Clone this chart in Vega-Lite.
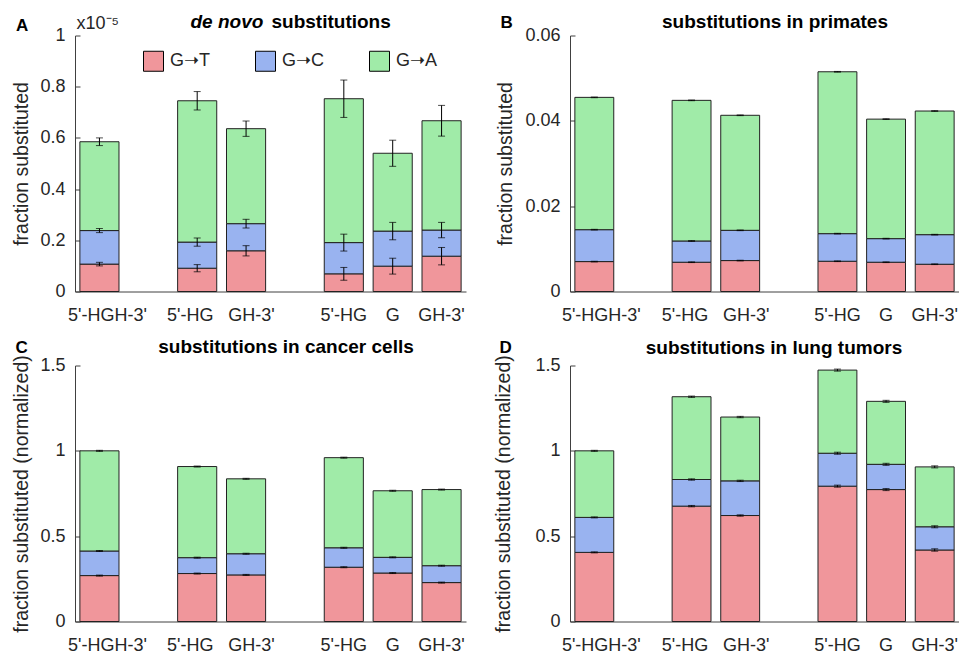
{
  "$schema": "https://vega.github.io/schema/vega-lite/v6.json",
  "padding": {"left": 10, "top": 12.5, "right": 0, "bottom": 0},
  "config": {
    "font": "Liberation Sans",
    "view": {"stroke": null},
    "axis": {"grid": false, "labelFont": "Liberation Sans", "titleFont": "Liberation Sans"},
    "title": {"font": "Liberation Sans", "color": "black"},
    "legend": {"labelFont": "Liberation Sans"}
  },
  "datasets": {
    "A": [
      {"site": "5'-HGH-3'|1", "type": "G➝T", "value": 0.107, "err": 0.007},
      {"site": "5'-HGH-3'|1", "type": "G➝C", "value": 0.131, "err": 0.008},
      {"site": "5'-HGH-3'|1", "type": "G➝A", "value": 0.347, "err": 0.015},
      {"site": "5'-HG|1", "type": "G➝T", "value": 0.091, "err": 0.014},
      {"site": "5'-HG|1", "type": "G➝C", "value": 0.102, "err": 0.016},
      {"site": "5'-HG|1", "type": "G➝A", "value": 0.552, "err": 0.036},
      {"site": "GH-3'|1", "type": "G➝T", "value": 0.159, "err": 0.020},
      {"site": "GH-3'|1", "type": "G➝C", "value": 0.106, "err": 0.017},
      {"site": "GH-3'|1", "type": "G➝A", "value": 0.371, "err": 0.030},
      {"site": "5'-HG|2", "type": "G➝T", "value": 0.069, "err": 0.025},
      {"site": "5'-HG|2", "type": "G➝C", "value": 0.122, "err": 0.033},
      {"site": "5'-HG|2", "type": "G➝A", "value": 0.562, "err": 0.073},
      {"site": "G|2", "type": "G➝T", "value": 0.099, "err": 0.031},
      {"site": "G|2", "type": "G➝C", "value": 0.137, "err": 0.034},
      {"site": "G|2", "type": "G➝A", "value": 0.304, "err": 0.051},
      {"site": "GH-3'|2", "type": "G➝T", "value": 0.138, "err": 0.034},
      {"site": "GH-3'|2", "type": "G➝C", "value": 0.102, "err": 0.030},
      {"site": "GH-3'|2", "type": "G➝A", "value": 0.427, "err": 0.060}
    ],
    "B": [
      {"site": "5'-HGH-3'|1", "type": "G➝T", "value": 0.00701, "err": 0.00008},
      {"site": "5'-HGH-3'|1", "type": "G➝C", "value": 0.00748, "err": 0.00008},
      {"site": "5'-HGH-3'|1", "type": "G➝A", "value": 0.03101, "err": 0.00008},
      {"site": "5'-HG|1", "type": "G➝T", "value": 0.00686, "err": 0.00008},
      {"site": "5'-HG|1", "type": "G➝C", "value": 0.00498, "err": 0.00008},
      {"site": "5'-HG|1", "type": "G➝A", "value": 0.03296, "err": 0.00008},
      {"site": "GH-3'|1", "type": "G➝T", "value": 0.00725, "err": 0.00008},
      {"site": "GH-3'|1", "type": "G➝C", "value": 0.00709, "err": 0.00008},
      {"site": "GH-3'|1", "type": "G➝A", "value": 0.02696, "err": 0.00008},
      {"site": "5'-HG|2", "type": "G➝T", "value": 0.00709, "err": 0.00008},
      {"site": "5'-HG|2", "type": "G➝C", "value": 0.00647, "err": 0.00008},
      {"site": "5'-HG|2", "type": "G➝A", "value": 0.03794, "err": 0.00008},
      {"site": "G|2", "type": "G➝T", "value": 0.00686, "err": 0.00008},
      {"site": "G|2", "type": "G➝C", "value": 0.00553, "err": 0.00008},
      {"site": "G|2", "type": "G➝A", "value": 0.02801, "err": 0.00008},
      {"site": "GH-3'|2", "type": "G➝T", "value": 0.00639, "err": 0.00008},
      {"site": "GH-3'|2", "type": "G➝C", "value": 0.00693, "err": 0.00008},
      {"site": "GH-3'|2", "type": "G➝A", "value": 0.02898, "err": 0.00008}
    ],
    "C": [
      {"site": "5'-HGH-3'|1", "type": "G➝T", "value": 0.269, "err": 0.003},
      {"site": "5'-HGH-3'|1", "type": "G➝C", "value": 0.144, "err": 0.003},
      {"site": "5'-HGH-3'|1", "type": "G➝A", "value": 0.587, "err": 0.003},
      {"site": "5'-HG|1", "type": "G➝T", "value": 0.281, "err": 0.003},
      {"site": "5'-HG|1", "type": "G➝C", "value": 0.093, "err": 0.003},
      {"site": "5'-HG|1", "type": "G➝A", "value": 0.534, "err": 0.003},
      {"site": "GH-3'|1", "type": "G➝T", "value": 0.273, "err": 0.003},
      {"site": "GH-3'|1", "type": "G➝C", "value": 0.124, "err": 0.003},
      {"site": "GH-3'|1", "type": "G➝A", "value": 0.439, "err": 0.003},
      {"site": "5'-HG|2", "type": "G➝T", "value": 0.318, "err": 0.003},
      {"site": "5'-HG|2", "type": "G➝C", "value": 0.114, "err": 0.003},
      {"site": "5'-HG|2", "type": "G➝A", "value": 0.528, "err": 0.003},
      {"site": "G|2", "type": "G➝T", "value": 0.284, "err": 0.003},
      {"site": "G|2", "type": "G➝C", "value": 0.092, "err": 0.003},
      {"site": "G|2", "type": "G➝A", "value": 0.390, "err": 0.003},
      {"site": "GH-3'|2", "type": "G➝T", "value": 0.228, "err": 0.003},
      {"site": "GH-3'|2", "type": "G➝C", "value": 0.099, "err": 0.003},
      {"site": "GH-3'|2", "type": "G➝A", "value": 0.446, "err": 0.003}
    ],
    "D": [
      {"site": "5'-HGH-3'|1", "type": "G➝T", "value": 0.405, "err": 0.003},
      {"site": "5'-HGH-3'|1", "type": "G➝C", "value": 0.205, "err": 0.003},
      {"site": "5'-HGH-3'|1", "type": "G➝A", "value": 0.390, "err": 0.003},
      {"site": "5'-HG|1", "type": "G➝T", "value": 0.676, "err": 0.004},
      {"site": "5'-HG|1", "type": "G➝C", "value": 0.156, "err": 0.004},
      {"site": "5'-HG|1", "type": "G➝A", "value": 0.485, "err": 0.004},
      {"site": "GH-3'|1", "type": "G➝T", "value": 0.621, "err": 0.004},
      {"site": "GH-3'|1", "type": "G➝C", "value": 0.203, "err": 0.004},
      {"site": "GH-3'|1", "type": "G➝A", "value": 0.374, "err": 0.004},
      {"site": "5'-HG|2", "type": "G➝T", "value": 0.793, "err": 0.006},
      {"site": "5'-HG|2", "type": "G➝C", "value": 0.193, "err": 0.006},
      {"site": "5'-HG|2", "type": "G➝A", "value": 0.487, "err": 0.006},
      {"site": "G|2", "type": "G➝T", "value": 0.773, "err": 0.006},
      {"site": "G|2", "type": "G➝C", "value": 0.148, "err": 0.006},
      {"site": "G|2", "type": "G➝A", "value": 0.369, "err": 0.006},
      {"site": "GH-3'|2", "type": "G➝T", "value": 0.419, "err": 0.007},
      {"site": "GH-3'|2", "type": "G➝C", "value": 0.136, "err": 0.006},
      {"site": "GH-3'|2", "type": "G➝A", "value": 0.351, "err": 0.006}
    ]
  },
  "bounds": "flush",
  "columns": 2,
  "spacing": {"row": 74, "column": 104},
  "resolve": {"legend": {"color": "independent"}},
  "concat": [
    {
      "width": 391, "height": 256,
      "data": {"name": "A"},
      "title": {"text": "A", "anchor": "start", "frame": "group", "dx": -59, "dy": 35, "offset": 0, "baseline": "alphabetic", "fontSize": 17, "fontWeight": "bold", "color": "black"},
      "resolve": {"axis": {"x": "independent", "y": "independent"}},
      "layer": [
        {
          "mark": {"type": "bar", "stroke": "#222222", "strokeWidth": 1},
          "encoding": {
            "x": {"field": "site", "type": "nominal",
              "scale": {"domain": ["5'-HGH-3'|1", "|a", "5'-HG|1", "GH-3'|1", "|b", "5'-HG|2", "G|2", "GH-3'|2"], "paddingInner": 0.2, "paddingOuter": 0.1},
              "axis": {"orient": "bottom", "labelExpr": "split(datum.label, '|')[0]", "labelAngle": 0, "ticks": false, "labelFontSize": 18, "labelColor": "#262626", "labelPadding": 15, "domainColor": "#404040",
                "labelOffset": {"condition": [{"test": "datum.value == \"5'-HGH-3'|1\"", "value": 8}, {"test": "datum.value == \"5'-HG|1\"", "value": -7}, {"test": "datum.value == \"GH-3'|1\"", "value": 5.5}], "value": 0},
                "title": "x10⁻⁵", "titleX": 1, "titleY": -263, "titleAlign": "left", "titleBaseline": "alphabetic", "titleAngle": 0, "titleFontSize": 18, "titleFontWeight": "normal", "titleColor": "#262626"}},
            "y": {"field": "value", "type": "quantitative", "stack": "zero",
              "scale": {"domain": [0, 1], "nice": false},
              "axis": {"values": [0, 0.2, 0.4, 0.6, 0.8, 1], "format": "~g", "title": "fraction substituted", "titleX": -48, "titleBaseline": "alphabetic", "titleFontSize": 19.5, "titleFontWeight": "normal", "titleColor": "#262626", "labelFontSize": 18, "labelColor": "#262626", "tickSize": -5, "tickColor": "#404040", "domainColor": "#404040", "labelPadding": 15}},
            "color": {"field": "type", "type": "nominal",
              "scale": {"domain": ["G➝T", "G➝C", "G➝A"], "range": ["#F0969B", "#99B3F0", "#A0EBA8"]},
              "legend": {"orient": "none", "legendX": 68, "legendY": 15, "direction": "horizontal", "title": null, "symbolType": "square", "symbolSize": 400, "symbolStrokeColor": "black", "symbolStrokeWidth": 1, "symbolOpacity": 1, "labelFontSize": 18, "labelColor": "#262626", "labelOffset": 6, "columnPadding": 43, "padding": 0}},
            "order": {"field": "type", "sort": "descending"}
          }
        },
        {
          "transform": [{"stack": "value", "groupby": ["site"], "sort": [{"field": "type", "order": "descending"}], "as": ["s0", "s1"]}],
          "mark": {"type": "errorbar", "ticks": {"size": 7}, "color": "black"},
          "encoding": {
            "x": {"field": "site", "type": "nominal",
              "scale": {"domain": ["5'-HGH-3'|1", "|a", "5'-HG|1", "GH-3'|1", "|b", "5'-HG|2", "G|2", "GH-3'|2"]},
              "axis": {"orient": "top", "labels": false, "ticks": false, "domain": false, "title": "substitutions", "titleX": 196, "titleY": -8, "titleAlign": "left", "titleBaseline": "alphabetic", "titleAngle": 0, "titleFontSize": 19, "titleFontWeight": "bold", "titleColor": "black"}},
            "y": {"field": "s1", "type": "quantitative",
              "scale": {"domain": [0, 1], "nice": false},
              "axis": {"orient": "right", "labels": false, "ticks": false, "domain": false, "title": "de novo", "titleX": -276, "titleY": -8, "titleAlign": "left", "titleBaseline": "alphabetic", "titleAngle": 0, "titleFontSize": 19, "titleFontWeight": "bold", "titleFontStyle": "italic", "titleColor": "black"}},
            "yError": {"field": "err"}
          }
        }
      ]
    },
    {
      "width": 389, "height": 256,
      "data": {"name": "B"},
      "resolve": {"axis": {"x": "independent", "y": "independent"}},
      "layer": [
        {
          "mark": {"type": "bar", "stroke": "#222222", "strokeWidth": 1},
          "encoding": {
            "x": {"field": "site", "type": "nominal",
              "scale": {"domain": ["5'-HGH-3'|1", "|a", "5'-HG|1", "GH-3'|1", "|b", "5'-HG|2", "G|2", "GH-3'|2"], "paddingInner": 0.2, "paddingOuter": 0.1},
              "axis": {"orient": "bottom", "labelExpr": "split(datum.label, '|')[0]", "labelAngle": 0, "ticks": false, "labelFontSize": 18, "labelColor": "#262626", "labelPadding": 15, "domainColor": "#404040",
                "labelOffset": {"condition": [{"test": "datum.value == \"5'-HGH-3'|1\"", "value": 7}, {"test": "datum.value == \"5'-HG|1\"", "value": -6.5}, {"test": "datum.value == \"GH-3'|1\"", "value": 6}], "value": 0},
                "title": "B", "titleX": -70, "titleY": -264, "titleAlign": "left", "titleBaseline": "alphabetic", "titleAngle": 0, "titleFontSize": 17, "titleFontWeight": "bold", "titleColor": "black"}},
            "y": {"field": "value", "type": "quantitative", "stack": "zero",
              "scale": {"domain": [0, 0.06], "nice": false},
              "axis": {"values": [0, 0.02, 0.04, 0.06], "format": "~g", "title": "fraction substituted", "titleX": -59, "titleBaseline": "alphabetic", "titleFontSize": 19.5, "titleFontWeight": "normal", "titleColor": "#262626", "labelFontSize": 18, "labelColor": "#262626", "tickSize": -5, "tickColor": "#404040", "domainColor": "#404040", "labelPadding": 15}},
            "color": {"field": "type", "type": "nominal",
              "scale": {"domain": ["G➝T", "G➝C", "G➝A"], "range": ["#F0969B", "#99B3F0", "#A0EBA8"]},
              "legend": null},
            "order": {"field": "type", "sort": "descending"}
          }
        },
        {
          "transform": [{"stack": "value", "groupby": ["site"], "sort": [{"field": "type", "order": "descending"}], "as": ["s0", "s1"]}],
          "mark": {"type": "errorbar", "ticks": {"size": 7}, "color": "black"},
          "encoding": {
            "x": {"field": "site", "type": "nominal",
              "scale": {"domain": ["5'-HGH-3'|1", "|a", "5'-HG|1", "GH-3'|1", "|b", "5'-HG|2", "G|2", "GH-3'|2"]},
              "axis": {"orient": "top", "labels": false, "ticks": false, "domain": false, "title": "substitutions in primates", "titleX": 204.5, "titleY": -8, "titleAlign": "center", "titleBaseline": "alphabetic", "titleAngle": 0, "titleFontSize": 19, "titleFontWeight": "bold", "titleColor": "black"}},
            "y": {"field": "s1", "type": "quantitative",
              "scale": {"domain": [0, 0.06], "nice": false},
              "axis": null},
            "yError": {"field": "err"}
          }
        }
      ]
    },
    {
      "width": 391, "height": 256,
      "data": {"name": "C"},
      "resolve": {"axis": {"x": "independent", "y": "independent"}},
      "layer": [
        {
          "mark": {"type": "bar", "stroke": "#222222", "strokeWidth": 1},
          "encoding": {
            "x": {"field": "site", "type": "nominal",
              "scale": {"domain": ["5'-HGH-3'|1", "|a", "5'-HG|1", "GH-3'|1", "|b", "5'-HG|2", "G|2", "GH-3'|2"], "paddingInner": 0.2, "paddingOuter": 0.1},
              "axis": {"orient": "bottom", "labelExpr": "split(datum.label, '|')[0]", "labelAngle": 0, "ticks": false, "labelFontSize": 18, "labelColor": "#262626", "labelPadding": 15, "domainColor": "#404040",
                "labelOffset": {"condition": [{"test": "datum.value == \"5'-HGH-3'|1\"", "value": 8}, {"test": "datum.value == \"5'-HG|1\"", "value": -7}, {"test": "datum.value == \"GH-3'|1\"", "value": 5.5}], "value": 0},
                "title": "C", "titleX": -60, "titleY": -269.5, "titleAlign": "left", "titleBaseline": "alphabetic", "titleAngle": 0, "titleFontSize": 17, "titleFontWeight": "bold", "titleColor": "black"}},
            "y": {"field": "value", "type": "quantitative", "stack": "zero",
              "scale": {"domain": [0, 1.5], "nice": false},
              "axis": {"values": [0, 0.5, 1, 1.5], "format": "~g", "title": "fraction substituted (normalized)", "titleX": -48, "titleBaseline": "alphabetic", "titleFontSize": 19.5, "titleFontWeight": "normal", "titleColor": "#262626", "labelFontSize": 18, "labelColor": "#262626", "tickSize": -5, "tickColor": "#404040", "domainColor": "#404040", "labelPadding": 15}},
            "color": {"field": "type", "type": "nominal",
              "scale": {"domain": ["G➝T", "G➝C", "G➝A"], "range": ["#F0969B", "#99B3F0", "#A0EBA8"]},
              "legend": null},
            "order": {"field": "type", "sort": "descending"}
          }
        },
        {
          "transform": [{"stack": "value", "groupby": ["site"], "sort": [{"field": "type", "order": "descending"}], "as": ["s0", "s1"]}],
          "mark": {"type": "errorbar", "ticks": {"size": 7}, "color": "black"},
          "encoding": {
            "x": {"field": "site", "type": "nominal",
              "scale": {"domain": ["5'-HGH-3'|1", "|a", "5'-HG|1", "GH-3'|1", "|b", "5'-HG|2", "G|2", "GH-3'|2"]},
              "axis": {"orient": "top", "labels": false, "ticks": false, "domain": false, "title": "substitutions in cancer cells", "titleX": 210.5, "titleY": -13.5, "titleAlign": "center", "titleBaseline": "alphabetic", "titleAngle": 0, "titleFontSize": 19, "titleFontWeight": "bold", "titleColor": "black"}},
            "y": {"field": "s1", "type": "quantitative",
              "scale": {"domain": [0, 1.5], "nice": false},
              "axis": null},
            "yError": {"field": "err"}
          }
        }
      ]
    },
    {
      "width": 389, "height": 256,
      "data": {"name": "D"},
      "resolve": {"axis": {"x": "independent", "y": "independent"}},
      "layer": [
        {
          "mark": {"type": "bar", "stroke": "#222222", "strokeWidth": 1},
          "encoding": {
            "x": {"field": "site", "type": "nominal",
              "scale": {"domain": ["5'-HGH-3'|1", "|a", "5'-HG|1", "GH-3'|1", "|b", "5'-HG|2", "G|2", "GH-3'|2"], "paddingInner": 0.2, "paddingOuter": 0.1},
              "axis": {"orient": "bottom", "labelExpr": "split(datum.label, '|')[0]", "labelAngle": 0, "ticks": false, "labelFontSize": 18, "labelColor": "#262626", "labelPadding": 15, "domainColor": "#404040",
                "labelOffset": {"condition": [{"test": "datum.value == \"5'-HGH-3'|1\"", "value": 7}, {"test": "datum.value == \"5'-HG|1\"", "value": -6.5}, {"test": "datum.value == \"GH-3'|1\"", "value": 6}], "value": 0},
                "title": "D", "titleX": -71, "titleY": -269.5, "titleAlign": "left", "titleBaseline": "alphabetic", "titleAngle": 0, "titleFontSize": 17, "titleFontWeight": "bold", "titleColor": "black"}},
            "y": {"field": "value", "type": "quantitative", "stack": "zero",
              "scale": {"domain": [0, 1.5], "nice": false},
              "axis": {"values": [0, 0.5, 1, 1.5], "format": "~g", "title": "fraction substituted (normalized)", "titleX": -61, "titleBaseline": "alphabetic", "titleFontSize": 19.5, "titleFontWeight": "normal", "titleColor": "#262626", "labelFontSize": 18, "labelColor": "#262626", "tickSize": -5, "tickColor": "#404040", "domainColor": "#404040", "labelPadding": 15}},
            "color": {"field": "type", "type": "nominal",
              "scale": {"domain": ["G➝T", "G➝C", "G➝A"], "range": ["#F0969B", "#99B3F0", "#A0EBA8"]},
              "legend": null},
            "order": {"field": "type", "sort": "descending"}
          }
        },
        {
          "transform": [{"stack": "value", "groupby": ["site"], "sort": [{"field": "type", "order": "descending"}], "as": ["s0", "s1"]}],
          "mark": {"type": "errorbar", "ticks": {"size": 7}, "color": "black"},
          "encoding": {
            "x": {"field": "site", "type": "nominal",
              "scale": {"domain": ["5'-HGH-3'|1", "|a", "5'-HG|1", "GH-3'|1", "|b", "5'-HG|2", "G|2", "GH-3'|2"]},
              "axis": {"orient": "top", "labels": false, "ticks": false, "domain": false, "title": "substitutions in lung tumors", "titleX": 203.5, "titleY": -12.5, "titleAlign": "center", "titleBaseline": "alphabetic", "titleAngle": 0, "titleFontSize": 19, "titleFontWeight": "bold", "titleColor": "black"}},
            "y": {"field": "s1", "type": "quantitative",
              "scale": {"domain": [0, 1.5], "nice": false},
              "axis": null},
            "yError": {"field": "err"}
          }
        }
      ]
    }
  ]
}
